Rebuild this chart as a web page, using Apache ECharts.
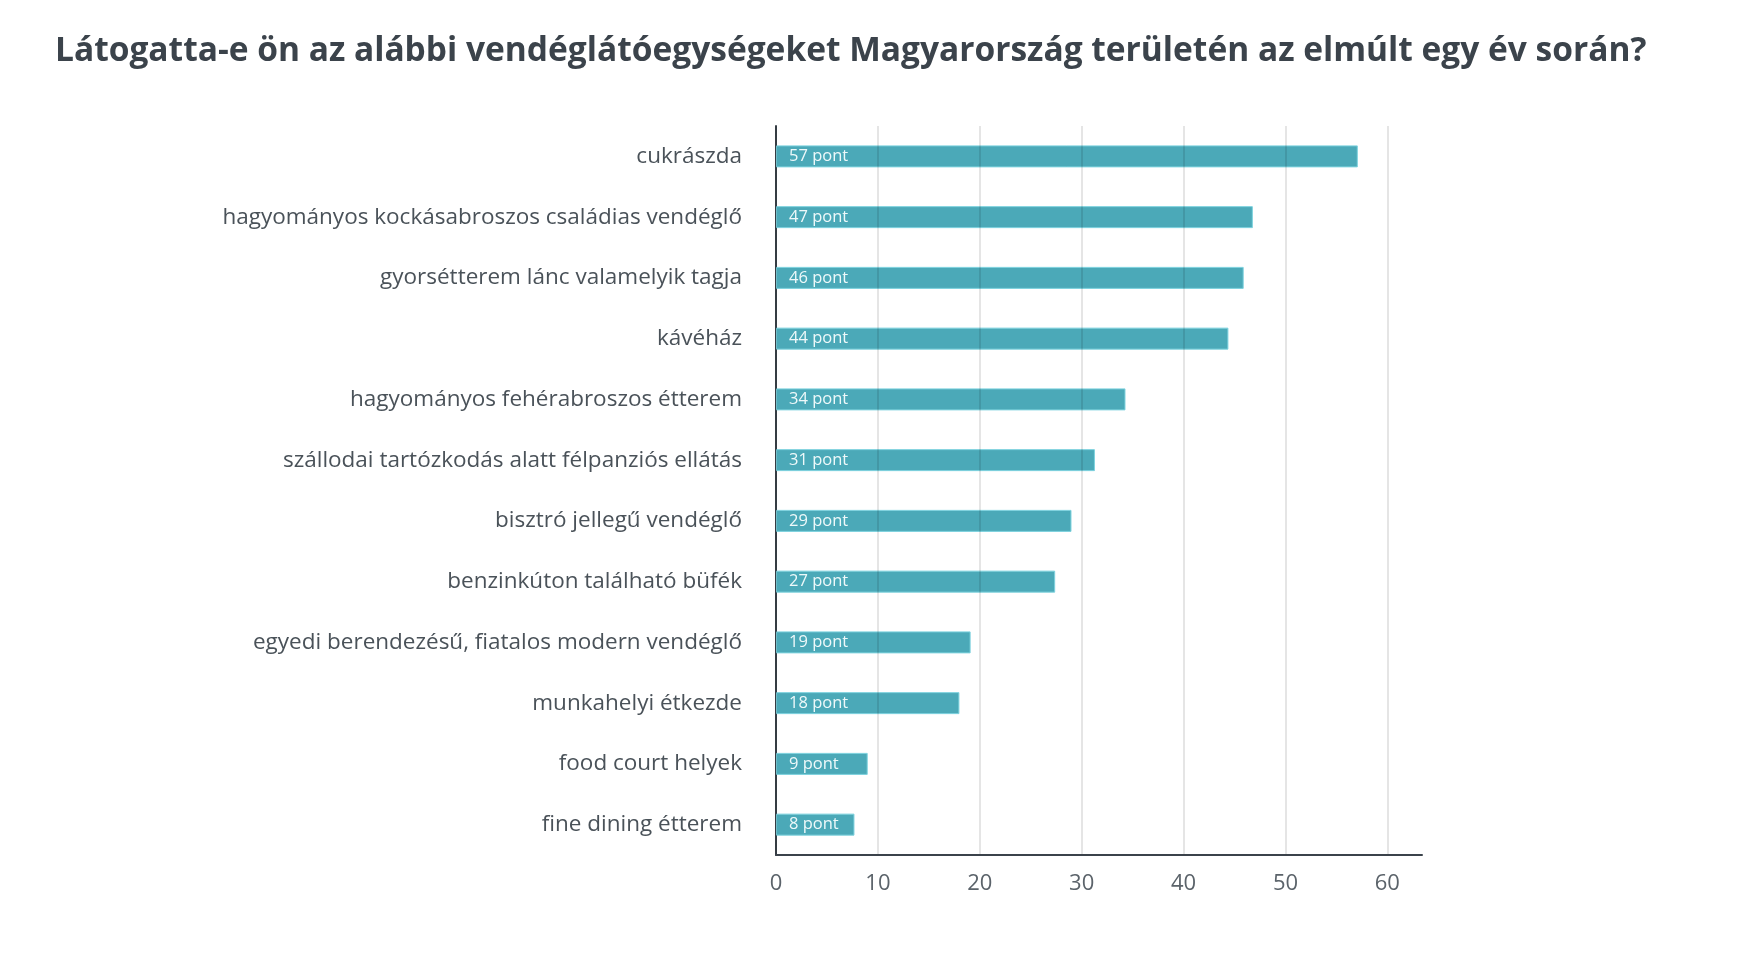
<!DOCTYPE html>
<html>
<head>
<meta charset="utf-8">
<script src="https://cdn.jsdelivr.net/npm/echarts@6/dist/echarts.min.js"></script>
<style>html,body{margin:0;padding:0;background:#fff}#c{width:1754px;height:966px}</style>
</head>
<body>
<div id="c"></div>
<script>
const titleText = 'Látogatta-e ön az alábbi vendéglátóegységeket Magyarország területén az elmúlt egy év során?';
const categories = [
  'cukrászda',
  'hagyományos kockásabroszos családias vendéglő',
  'gyorsétterem lánc valamelyik tagja',
  'kávéház',
  'hagyományos fehérabroszos étterem',
  'szállodai tartózkodás alatt félpanziós ellátás',
  'bisztró jellegű vendéglő',
  'benzinkúton található büfék',
  'egyedi berendezésű, fiatalos modern vendéglő',
  'munkahelyi étkezde',
  'food court helyek',
  'fine dining étterem'
];
const values = [57.1, 46.8, 45.9, 44.4, 34.3, 31.3, 29.0, 27.4, 19.1, 18.0, 9.0, 7.7];
const unit = 'pont';

const chart = echarts.init(document.getElementById('c'));
chart.setOption({
  backgroundColor: '#ffffff',
  animation: false,
  title: {
    text: titleText,
    left: 50, top: 29,
    textStyle: { fontFamily: 'Open Sans', fontWeight: 'bold', fontSize: 33.5, color: '#3b434b' }
  },
  grid: { left: 776, right: 332, top: 126, bottom: 111, containLabel: false },
  xAxis: {
    type: 'value', min: 0, max: 63.4, interval: 10,
    z: 3,
    axisLine: { show: true, lineStyle: { color: '#3b434b', width: 2 } },
    axisTick: { show: false },
    axisLabel: { showMaxLabel: false, color: '#5b636a', fontSize: 22, fontFamily: 'Open Sans', margin: 18 },
    splitLine: { show: true, showMaxLine: false, lineStyle: { color: 'rgba(0,0,0,0.1)', width: 2 } }
  },
  yAxis: {
    type: 'category', data: categories, inverse: true,
    axisLine: { show: true, lineStyle: { color: '#3b434b', width: 2 } },
    axisTick: { show: false },
    axisLabel: { color: '#4a5259', fontSize: 22.5, fontFamily: 'Open Sans', margin: 34 }
  },
  series: [{
    type: 'bar', data: values, barWidth: 22,
    itemStyle: { color: '#4ba9b8', borderColor: '#7dd2de', borderWidth: 1 },
    label: {
      show: true, position: 'insideLeft', distance: 13,
      formatter: p => Math.round(p.value) + ' ' + unit,
      color: '#eef9fa', fontSize: 16.5, fontFamily: 'Open Sans'
    }
  }]
});
</script>
</body>
</html>
